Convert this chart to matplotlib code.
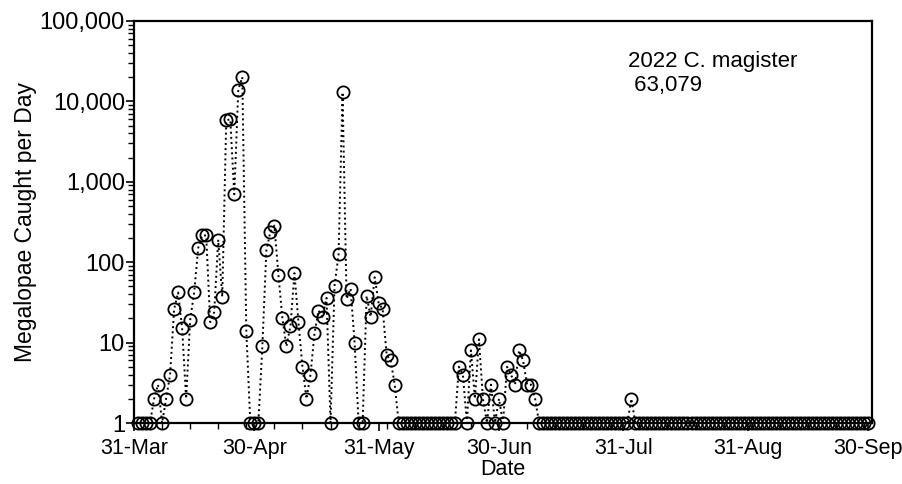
import numpy as np
import pandas as pd
import matplotlib
matplotlib.use("Agg")
import matplotlib.pyplot as plt
import matplotlib.dates as mdates
from matplotlib.ticker import LogLocator, FuncFormatter, NullFormatter

plt.rcParams['font.family'] = ['Liberation Sans', 'DejaVu Sans']

# ---- data ----
start_date = "2022-04-01"
counts = [
    0, 0, 0, 0, 2, 3, 0, 2, 4, 26,            # Apr 1-10
    42, 15, 2, 19, 42, 150, 215, 215, 18, 24,  # Apr 11-20
    190, 37, 5800, 6000, 700, 14000, 20000, 14, 0, 0,  # Apr 21-30
    0, 9, 140, 240, 285, 70, 20, 9, 16, 73,    # May 1-10
    18, 5, 2, 4, 13, 25, 21, 36, 0, 51,        # May 11-20
    125, 13000, 35, 47, 10, 0, 0, 38, 21, 65,  # May 21-30
    31, 26, 7, 6, 3, 0, 0, 0, 0, 0,            # May 31 - Jun 9
    0, 0, 0, 0, 0, 0, 0, 0, 0, 0,              # Jun 10-19
    5, 4, 0, 8, 2, 11, 2, 0, 3, 0,             # Jun 20-29
    2, 0, 5, 4, 3, 8, 6, 3, 3, 2,              # Jun 30 - Jul 9
    0, 0, 0, 0, 0, 0, 0, 0, 0, 0,              # Jul 10-19
    0, 0, 0, 0, 0, 0, 0, 0, 0, 0,              # Jul 20-29
    0, 0, 0, 2, 0, 0, 0, 0, 0, 0,              # Jul 30 - Aug 8
    0, 0, 0, 0, 0, 0, 0, 0, 0, 0,              # Aug 9-18
    0, 0, 0, 0, 0, 0, 0, 0, 0, 0,              # Aug 19-28
    0, 0, 0, 0, 0, 0, 0, 0, 0, 0,              # Aug 29 - Sep 7
    0, 0, 0, 0, 0, 0, 0, 0, 0, 0,              # Sep 8-17
    0, 0, 0, 0, 0, 0, 0, 0, 0, 0,              # Sep 18-27
    0, 0, 0,                                   # Sep 28-30
]
major_tick_dates = ["2022-03-31", "2022-04-30", "2022-05-31", "2022-06-30",
                    "2022-07-31", "2022-08-31", "2022-09-30"]
annotation = "2022 C. magister\n 63,079"
x_label = "Date"
y_label = "Megalopae Caught per Day"

dates = pd.date_range(start_date, periods=len(counts), freq="D")
vals = np.array(counts, dtype=float)
plot_vals = np.where(vals < 1, 1, vals)  # zero days drawn on the baseline (1)

fig = plt.figure(figsize=(9.03, 4.84), dpi=100)
ax = fig.add_axes([134/903, 1-423/484, (872-134)/903, (423-21)/484])

ax.plot(dates, plot_vals, linestyle=':', color='black', linewidth=1.4,
        marker='o', markersize=8.8, markerfacecolor='none',
        markeredgecolor='black', markeredgewidth=1.3, clip_on=False, zorder=3)

ax.set_yscale('log')
ax.set_ylim(1, 100000)
ax.set_xlim(pd.Timestamp("2022-03-31"), pd.Timestamp("2022-10-01"))

ax.yaxis.set_major_locator(LogLocator(base=10, numticks=10))
ax.yaxis.set_major_formatter(FuncFormatter(lambda v, p: f"{v:,.0f}"))
ax.yaxis.set_minor_locator(LogLocator(base=10, subs=np.arange(2, 10), numticks=20))
ax.yaxis.set_minor_formatter(NullFormatter())

ax.set_xticks(pd.to_datetime(major_tick_dates))
ax.xaxis.set_major_formatter(mdates.DateFormatter('%d-%b'))
minor = pd.date_range("2022-03-31", "2022-09-30", freq="7D")
ax.set_xticks(minor, minor=True)

ax.tick_params(axis='both', which='major', direction='out', length=6, width=1.2,
               colors='black')
ax.tick_params(axis='x', which='major', pad=5, labelsize=15.5)
ax.tick_params(axis='y', which='major', pad=0.5, labelsize=17)
ax.tick_params(axis='both', which='minor', direction='out', length=4, width=1.0)

for s in ax.spines.values():
    s.set_linewidth(1.6)
    s.set_color('black')

ax.set_xlabel(x_label, fontsize=15.5, labelpad=0)
ax.set_ylabel(y_label, fontsize=16.5, labelpad=2)

ax.text(0.669, 0.925, annotation, transform=ax.transAxes, fontsize=16,
        ha='left', va='top', linespacing=1.2)

fig.savefig("out.png", dpi=100)
